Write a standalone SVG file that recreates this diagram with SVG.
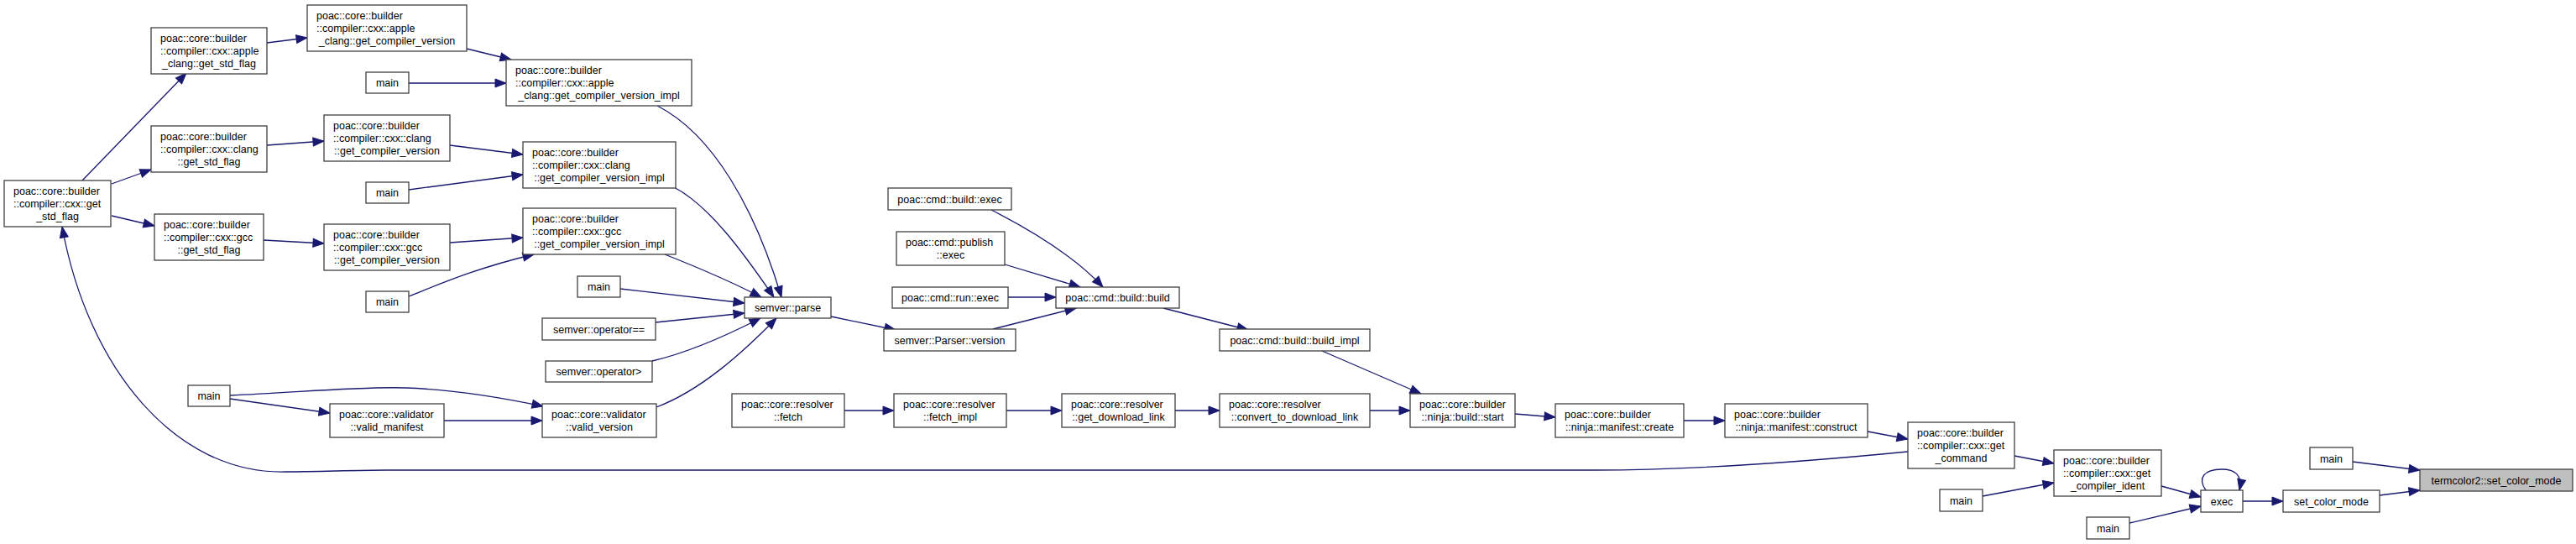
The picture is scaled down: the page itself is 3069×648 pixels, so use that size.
<svg xmlns="http://www.w3.org/2000/svg" width="3069" height="648" viewBox="0 0 3069 648">
<style>
.node rect{fill:#ffffff;stroke:#404040;stroke-width:1.3}
.node.hl rect{fill:#bfbfbf}
text{font-family:"Liberation Sans",Arial,Helvetica,sans-serif;font-size:12.5px;fill:#000000}
.m{text-anchor:middle}
.edge path{fill:none;stroke:#191970;stroke-width:1.3;marker-end:url(#ah)}
</style>
<defs>
<marker id="ah" markerUnits="userSpaceOnUse" markerWidth="14" markerHeight="11" refX="13" refY="5" orient="auto" overflow="visible">
<path d="M0,0 L13,5 L0,10 z" fill="#191970" stroke="#191970" stroke-width="1"/>
</marker>
</defs>
<rect width="3069" height="648" fill="#ffffff"/>
<g id="connectors" class="edge">
<path d="M98,215 L222,87"/>
<path d="M133,219 L180,202"/>
<path d="M133,257 L184,269"/>
<path d="M318,51 L366,45"/>
<path d="M318,173 L386,168"/>
<path d="M314,286 L386,290"/>
<path d="M556,58 L609,71"/>
<path d="M487,99 L603,99"/>
<path d="M536,173 L623,184"/>
<path d="M487,226 L623,208"/>
<path d="M536,289 L623,283"/>
<path d="M487,353 C525,338 565,320 636,303"/>
<path d="M783,126 C850,160 900,250 931,354"/>
<path d="M803,223 C845,245 885,300 922,354"/>
<path d="M792,303 C830,318 870,335 907,354"/>
<path d="M739,344 L887,361"/>
<path d="M781,384 L887,373"/>
<path d="M777,430 C820,420 865,400 906,379"/>
<path d="M782,485 C835,465 885,420 925,379"/>
<path d="M274,475 L393,492"/>
<path d="M274,471 C350,468 430,460 483,462 C540,464 600,474 647,484"/>
<path d="M529,501 L646,501"/>
<path d="M990,377 L1067,393"/>
<path d="M1181,250 C1230,275 1280,305 1314,342"/>
<path d="M1197,315 L1287,342"/>
<path d="M1201,354 L1258,354"/>
<path d="M1183,392 L1282,367"/>
<path d="M1386,367 L1487,393"/>
<path d="M1575,418 L1693,469"/>
<path d="M1006,489 L1065,489"/>
<path d="M1199,489 L1265,489"/>
<path d="M1400,489 L1453,489"/>
<path d="M1632,489 L1680,489"/>
<path d="M1805,493 L1853,497"/>
<path d="M2006,501 L2055,501"/>
<path d="M2225,514 L2273,523"/>
<path d="M2273,538 C2150,550 2020,560 1900,560 L460,560 C420,560 380,562 340,562 C210,565 105,440 74,270"/>
<path d="M2400,543 L2447,552"/>
<path d="M2362,591 L2447,575"/>
<path d="M2575,579 L2622,592"/>
<path d="M2537,623 L2622,603"/>
<path d="M2628,584 C2618,570 2625,559 2647,559 C2662,559 2672,565 2668,584"/>
<path d="M2672,597 L2720,597"/>
<path d="M2835,590 L2883,584"/>
<path d="M2803,550 L2883,560"/>
</g>
<g id="n_getstd" class="node"><rect x="5" y="215" width="127" height="55"/><text x="16" y="232">poac::core::builder</text><text x="16" y="247">::compiler::cxx::get</text><text class="m" x="68.5" y="262">_std_flag</text></g>
<g id="n_apple_std" class="node"><rect x="180" y="33" width="138" height="55"/><text x="191" y="50">poac::core::builder</text><text x="191" y="65">::compiler::cxx::apple</text><text class="m" x="249" y="80">_clang::get_std_flag</text></g>
<g id="n_apple_gcv" class="node"><rect x="366" y="6" width="190" height="55"/><text x="377" y="23">poac::core::builder</text><text x="377" y="38">::compiler::cxx::apple</text><text class="m" x="461" y="53">_clang::get_compiler_version</text></g>
<g id="n_main1" class="node"><rect x="436" y="86" width="51" height="25"/><text class="m" x="461.5" y="103">main</text></g>
<g id="n_apple_impl" class="node"><rect x="603" y="71" width="221" height="55"/><text x="614" y="88">poac::core::builder</text><text x="614" y="103">::compiler::cxx::apple</text><text class="m" x="713.5" y="118">_clang::get_compiler_version_impl</text></g>
<g id="n_clang_std" class="node"><rect x="180" y="150" width="138" height="55"/><text x="191" y="167">poac::core::builder</text><text x="191" y="182">::compiler::cxx::clang</text><text class="m" x="249" y="197">::get_std_flag</text></g>
<g id="n_clang_gcv" class="node"><rect x="386" y="137" width="150" height="55"/><text x="397" y="154">poac::core::builder</text><text x="397" y="169">::compiler::cxx::clang</text><text class="m" x="461" y="184">::get_compiler_version</text></g>
<g id="n_clang_impl" class="node"><rect x="623" y="169" width="182" height="55"/><text x="634" y="186">poac::core::builder</text><text x="634" y="201">::compiler::cxx::clang</text><text class="m" x="714" y="216">::get_compiler_version_impl</text></g>
<g id="n_main2" class="node"><rect x="436" y="217" width="51" height="25"/><text class="m" x="461.5" y="234">main</text></g>
<g id="n_gcc_std" class="node"><rect x="184" y="255" width="130" height="55"/><text x="195" y="272">poac::core::builder</text><text x="195" y="287">::compiler::cxx::gcc</text><text class="m" x="249" y="302">::get_std_flag</text></g>
<g id="n_gcc_gcv" class="node"><rect x="386" y="267" width="150" height="55"/><text x="397" y="284">poac::core::builder</text><text x="397" y="299">::compiler::cxx::gcc</text><text class="m" x="461" y="314">::get_compiler_version</text></g>
<g id="n_gcc_impl" class="node"><rect x="623" y="248" width="182" height="55"/><text x="634" y="265">poac::core::builder</text><text x="634" y="280">::compiler::cxx::gcc</text><text class="m" x="714" y="295">::get_compiler_version_impl</text></g>
<g id="n_main4" class="node"><rect x="436" y="347" width="51" height="25"/><text class="m" x="461.5" y="364">main</text></g>
<g id="n_main3" class="node"><rect x="688" y="329" width="51" height="25"/><text class="m" x="713.5" y="346">main</text></g>
<g id="n_parse" class="node"><rect x="887" y="354" width="103" height="25"/><text class="m" x="938.5" y="371">semver::parse</text></g>
<g id="n_opeq" class="node"><rect x="646" y="379" width="135" height="26"/><text class="m" x="713.5" y="396.5">semver::operator==</text></g>
<g id="n_opgt" class="node"><rect x="650" y="430" width="127" height="25"/><text class="m" x="713.5" y="447">semver::operator&gt;</text></g>
<g id="n_main5" class="node"><rect x="224" y="459" width="50" height="25"/><text class="m" x="249" y="476">main</text></g>
<g id="n_valid_manifest" class="node"><rect x="393" y="481" width="136" height="40"/><text x="404" y="498">poac::core::validator</text><text class="m" x="461" y="513">::valid_manifest</text></g>
<g id="n_valid_version" class="node"><rect x="646" y="481" width="136" height="40"/><text x="657" y="498">poac::core::validator</text><text class="m" x="714" y="513">::valid_version</text></g>
<g id="n_build_exec" class="node"><rect x="1058" y="224" width="147" height="26"/><text class="m" x="1131.5" y="241.5">poac::cmd::build::exec</text></g>
<g id="n_publish" class="node"><rect x="1068" y="276" width="129" height="40"/><text x="1079" y="293">poac::cmd::publish</text><text class="m" x="1132.5" y="308">::exec</text></g>
<g id="n_run" class="node"><rect x="1063" y="342" width="138" height="25"/><text class="m" x="1132" y="359">poac::cmd::run::exec</text></g>
<g id="n_build" class="node"><rect x="1258" y="342" width="147" height="25"/><text class="m" x="1331.5" y="359">poac::cmd::build::build</text></g>
<g id="n_parser_version" class="node"><rect x="1053" y="392" width="157" height="26"/><text class="m" x="1131.5" y="409.5">semver::Parser::version</text></g>
<g id="n_build_impl" class="node"><rect x="1453" y="392" width="179" height="26"/><text class="m" x="1542.5" y="409.5">poac::cmd::build::build_impl</text></g>
<g id="n_fetch" class="node"><rect x="872" y="469" width="134" height="40"/><text x="883" y="486">poac::core::resolver</text><text class="m" x="939" y="501">::fetch</text></g>
<g id="n_fetch_impl" class="node"><rect x="1065" y="469" width="134" height="40"/><text x="1076" y="486">poac::core::resolver</text><text class="m" x="1132" y="501">::fetch_impl</text></g>
<g id="n_gdl" class="node"><rect x="1265" y="469" width="135" height="40"/><text x="1276" y="486">poac::core::resolver</text><text class="m" x="1332.5" y="501">::get_download_link</text></g>
<g id="n_convert" class="node"><rect x="1453" y="469" width="179" height="40"/><text x="1464" y="486">poac::core::resolver</text><text class="m" x="1542.5" y="501">::convert_to_download_link</text></g>
<g id="n_start" class="node"><rect x="1680" y="469" width="125" height="40"/><text x="1691" y="486">poac::core::builder</text><text class="m" x="1742.5" y="501">::ninja::build::start</text></g>
<g id="n_create" class="node"><rect x="1853" y="481" width="153" height="40"/><text x="1864" y="498">poac::core::builder</text><text class="m" x="1929.5" y="513">::ninja::manifest::create</text></g>
<g id="n_construct" class="node"><rect x="2055" y="481" width="170" height="40"/><text x="2066" y="498">poac::core::builder</text><text class="m" x="2140" y="513">::ninja::manifest::construct</text></g>
<g id="n_get_command" class="node"><rect x="2273" y="503" width="127" height="55"/><text x="2284" y="520">poac::core::builder</text><text x="2284" y="535">::compiler::cxx::get</text><text class="m" x="2336.5" y="550">_command</text></g>
<g id="n_main6" class="node"><rect x="2311" y="583" width="51" height="26"/><text class="m" x="2336.5" y="600.5">main</text></g>
<g id="n_ident" class="node"><rect x="2447" y="536" width="128" height="55"/><text x="2458" y="553">poac::core::builder</text><text x="2458" y="568">::compiler::cxx::get</text><text class="m" x="2511" y="583">_compiler_ident</text></g>
<g id="n_exec" class="node"><rect x="2622" y="584" width="50" height="26"/><text class="m" x="2647" y="601.5">exec</text></g>
<g id="n_main7" class="node"><rect x="2486" y="616" width="51" height="26"/><text class="m" x="2511.5" y="633.5">main</text></g>
<g id="n_set_color_mode" class="node"><rect x="2720" y="584" width="115" height="26"/><text class="m" x="2777.5" y="601.5">set_color_mode</text></g>
<g id="n_main8" class="node"><rect x="2752" y="533" width="51" height="26"/><text class="m" x="2777.5" y="550.5">main</text></g>
<g id="n_term" class="node hl"><rect x="2883" y="559" width="182" height="26"/><text class="m" x="2974" y="576.5">termcolor2::set_color_mode</text></g>
</svg>
